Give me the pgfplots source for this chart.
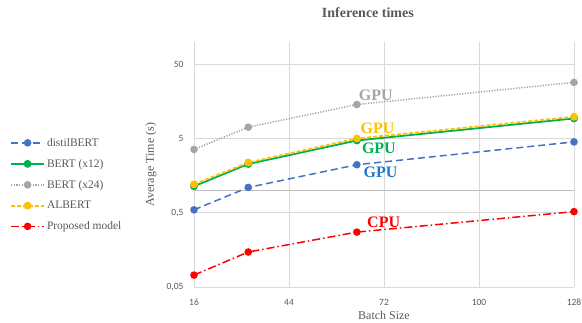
\documentclass[border=0pt]{standalone}
\usepackage{fontspec}
\setmainfont{Liberation Serif}
\newfontfamily\carlito{Carlito}
\usepackage{pgfplots}
\pgfplotsset{compat=1.18}
\definecolor{cblue}{HTML}{4472C4}
\definecolor{cbluet}{HTML}{1F78C8}
\definecolor{cgreen}{HTML}{00B050}
\definecolor{cgray}{HTML}{A5A5A5}
\definecolor{cyellow}{HTML}{FFC000}
\definecolor{cred}{HTML}{FF0000}
\definecolor{gridc}{HTML}{D9D9D9}
\definecolor{axisc}{HTML}{BFBFBF}
\definecolor{textc}{HTML}{595959}
\begin{document}
\begin{tikzpicture}[x=1pt,y=1pt]
\useasboundingbox (0,0) rectangle (582,323);
\begin{axis}[
  at={(194pt,35.7pt)}, anchor=south west,
  scale only axis, width=380pt, height=245.6pt,
  ymode=log, xmin=16, xmax=128, ymin=0.05, ymax=100,
  clip=false,
  xtick={16,44,72,100,128}, xticklabels={16,44,72,100,128},
  ytick={0.05,0.5,5,50}, yticklabels={{0,05},{0,5},5,50},
  minor ytick={}, 
  extra y ticks={1}, extra y tick labels={},
  extra y tick style={grid=major, major grid style={color=axisc, line width=0.8pt}},
  grid=major, major grid style={color=gridc, line width=0.8pt},
  axis line style={draw=none}, major tick length=0pt, minor tick length=0pt,
  tick label style={font=\carlito\fontsize{9.5}{11}\selectfont, text=textc},
  xticklabel style={anchor=base, yshift=-18.5pt},
  yticklabel style={anchor=east, xshift=-7pt},
  xlabel={Batch Size}, ylabel={Average Time (s)},
  label style={font=\fontsize{12}{14}\selectfont, text=textc},
  xlabel style={at={(axis description cs:0.5,0)}, anchor=base, yshift=-32.7pt},
  ylabel style={at={(axis description cs:-0.1132,0.5)}, anchor=center},
  title={\textbf{Inference times}},
  title style={at={(axis description cs:0.4576,1)}, anchor=base, yshift=17.7pt, font=\fontsize{14}{16}\selectfont, text=textc},
  legend style={at={(axis description cs:-0.4842,0.418)}, anchor=west, draw=none, fill=none,
    font=\fontsize{11.5}{13}\selectfont, text=textc, row sep=7.5pt, inner sep=0pt},
  legend cell align=left,
  legend image code/.code={\draw[mark repeat=2,mark phase=2,#1] plot coordinates {(0pt,0pt)(16.5pt,0pt)(33pt,0pt)};},
  mark size=3pt,
]
\addplot[color=cblue, line width=1.5pt, dash pattern=on 7pt off 4pt, mark=*, mark options={solid, fill=cblue}]
  coordinates {(16,0.55)(32,1.10)(64,2.22)(128,4.5)};
\addlegendentry{distilBERT}
\addplot[color=cgreen, line width=1.8pt, mark=*, mark options={solid, fill=cgreen}]
  coordinates {(16,1.14)(32,2.27)(64,4.7)(128,9.3)};
\addlegendentry{BERT (x12)}
\addplot[color=cgray, line width=1.5pt, dash pattern=on 1.2pt off 1.5pt, mark=*, mark options={solid, fill=cgray}]
  coordinates {(16,3.56)(32,7.1)(64,14.3)(128,28.4)};
\addlegendentry{BERT (x24)}
\addplot[color=cyellow, line width=1.8pt, dash pattern=on 4pt off 2pt, mark=*, mark options={solid, fill=cyellow}]
  coordinates {(16,1.21)(32,2.38)(64,5.0)(128,9.8)};
\addlegendentry{ALBERT}
\addplot[color=cred, line width=1.5pt, dash pattern=on 8pt off 3pt on 1.5pt off 3pt, mark=*, mark options={solid, fill=cred}]
  coordinates {(16,0.073)(32,0.149)(64,0.276)(128,0.52)};
\addlegendentry{Proposed model}
\node[font=\bfseries\fontsize{16}{18}\selectfont, text=cgray] at (axis cs:69.6,18.9) {GPU};
\node[font=\bfseries\fontsize{16}{18}\selectfont, text=cyellow] at (axis cs:70.1,6.77) {GPU};
\node[font=\bfseries\fontsize{16}{18}\selectfont, text=cgreen] at (axis cs:70.5,3.68) {GPU};
\node[font=\bfseries\fontsize{16}{18}\selectfont, text=cbluet] at (axis cs:71.0,1.77) {GPU};
\node[font=\bfseries\fontsize{16}{18}\selectfont, text=cred] at (axis cs:71.9,0.378) {CPU};
\end{axis}
\end{tikzpicture}
\end{document}
